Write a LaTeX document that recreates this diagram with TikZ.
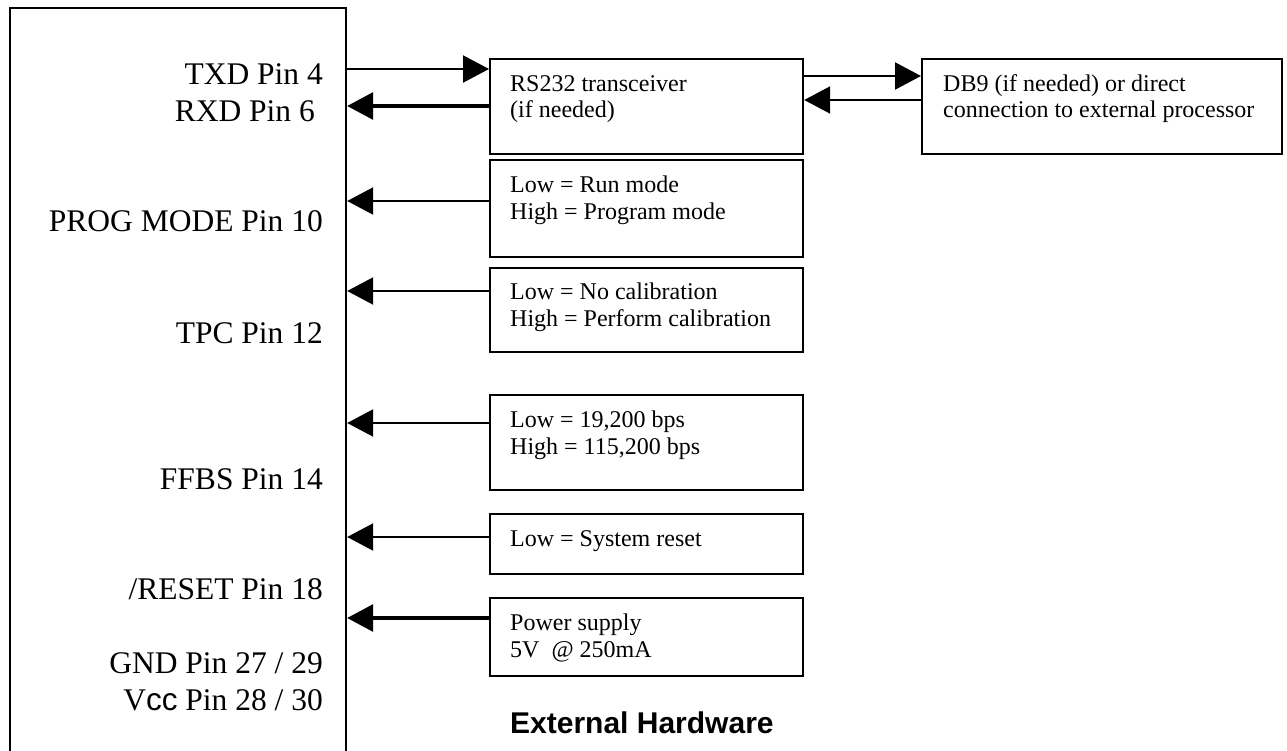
\documentclass[tikz,border=0pt]{standalone}
\usepackage{fontspec}
\setmainfont{Liberation Serif}
\newfontfamily\arialfont{Liberation Sans}
\usetikzlibrary{arrows.meta}
\tikzset{
  boxshape/.style={draw, line width=2.2pt, rectangle, anchor=north west, inner sep=0pt},
  pinlabel/.style={anchor=base east, inner sep=0pt, font=\fontsize{31.5}{34}\selectfont},
  boxtext/.style={anchor=base west, inner sep=0pt, font=\fontsize{24}{27}\selectfont},
  arr/.style={line width=2.2pt, -{Triangle[length=26pt,width=27pt]}},
  thickarr/.style={line width=3.2pt, -{Triangle[length=26pt,width=27pt]}},
}
\begin{document}
\begin{tikzpicture}[x=1pt,y=-1pt]
\useasboundingbox (0,0) rectangle (1287,751);
\clip (0,0) rectangle (1287,751);
% main module box (bottom edge off the page)
\node[boxshape, minimum width=336pt, minimum height=800pt] (mcu) at (9,7) {};
% pin labels
\node[pinlabel] (ltxd) at (323,85) {TXD Pin 4};
\node[pinlabel] (lrxd) at (315,122) {RXD Pin 6};
\node[pinlabel] (lprog) at (323,232) {PROG MODE Pin 10};
\node[pinlabel] (ltpc) at (323,343) {TPC Pin 12};
\node[pinlabel] (lffbs) at (323,489) {FFBS Pin 14};
\node[pinlabel] (lreset) at (323,599) {/RESET Pin 18};
\node[pinlabel] (lgnd) at (323,673) {GND Pin 27 / 29};
\node[pinlabel] (lvcc) at (323,710) {V{\arialfont cc} Pin 28 / 30};
% external boxes
\node[boxshape, minimum width=313pt, minimum height=95pt] (rs) at (489,58) {};
\node[boxshape, minimum width=360pt, minimum height=95pt] (db) at (921,58) {};
\node[boxshape, minimum width=313pt, minimum height=97pt] (prog) at (489,159) {};
\node[boxshape, minimum width=313pt, minimum height=84pt] (tpc) at (489,267) {};
\node[boxshape, minimum width=313pt, minimum height=95pt] (ffbs) at (489,394) {};
\node[boxshape, minimum width=313pt, minimum height=60pt] (rst) at (489,513) {};
\node[boxshape, minimum width=313pt, minimum height=78pt] (pwr) at (489,597) {};
% box texts
\node[boxtext] (rs1) at (510,92) {RS232 transceiver};
\node[boxtext] (rs2) at (510,118) {(if needed)};
\node[boxtext] (db1) at (943,92) {DB9 (if needed) or direct};
\node[boxtext] (db2) at (943,118) {connection to external processor};
\node[boxtext] (pg1) at (510,193) {Low = Run mode};
\node[boxtext] (pg2) at (510,220) {High = Program mode};
\node[boxtext] (tp1) at (510,299) {Low = No calibration};
\node[boxtext] (tp2) at (510,326) {High = Perform calibration};
\node[boxtext] (ff1) at (510,427) {Low = 19,200 bps};
\node[boxtext] (ff2) at (510,454) {High = 115,200 bps};
\node[boxtext] (rs3) at (510,546) {Low = System reset};
\node[boxtext] (pw1) at (510,630) {Power supply};
\node[boxtext] (pw2) at (510,657) {5V\ \ @ 250mA};
\node[anchor=base west, inner sep=0pt, font=\arialfont\bfseries\fontsize{30}{34}\selectfont] (ext) at (510,733) {External Hardware};
% connector heights
\coordinate (ytxd) at (0,69);
\coordinate (yrxd) at (0,106);
\coordinate (yrsdb) at (0,76);
\coordinate (ydbrs) at (0,100);
\coordinate (yprog) at (0,201);
\coordinate (ytpc) at (0,291);
\coordinate (yffbs) at (0,423);
\coordinate (yrst) at (0,537);
\coordinate (ypwr) at (0,618);
% connectors
\draw[arr] (mcu.east |- ytxd) -- (rs.west |- ytxd);
\draw[thickarr] (rs.west |- yrxd) -- (mcu.east |- yrxd);
\draw[arr] (rs.east |- yrsdb) -- (db.west |- yrsdb);
\draw[arr] (db.west |- ydbrs) -- (rs.east |- ydbrs);
\draw[arr] (prog.west |- yprog) -- (mcu.east |- yprog);
\draw[arr] (tpc.west |- ytpc) -- (mcu.east |- ytpc);
\draw[arr] (ffbs.west |- yffbs) -- (mcu.east |- yffbs);
\draw[arr] (rst.west |- yrst) -- (mcu.east |- yrst);
\draw[thickarr] (pwr.west |- ypwr) -- (mcu.east |- ypwr);
\end{tikzpicture}
\end{document}
